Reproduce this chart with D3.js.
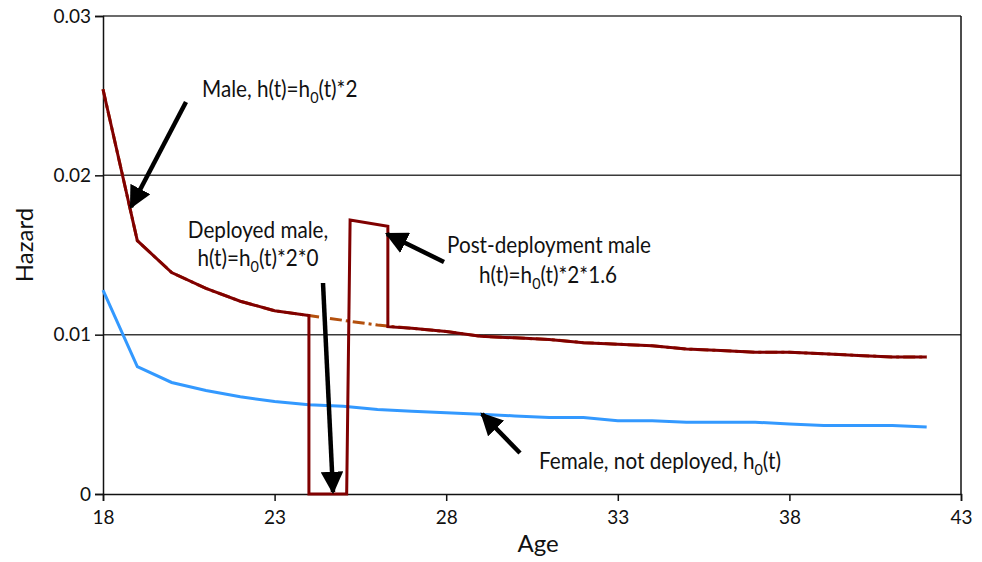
<!DOCTYPE html>
<html>
<head>
<meta charset="utf-8">
<script src="https://cdn.jsdelivr.net/npm/d3@7"></script>
<style>
  html, body { margin: 0; padding: 0; background: #fff; }
  svg { display: block; }
  text { font-family: Lato, "Open Sans", sans-serif; fill: #111; }
</style>
</head>
<body>
<svg id="chart" width="982" height="562"></svg>
<script>
// Ages at which the hazard is tabulated
const ages = [18, 19, 20, 21, 22, 23, 24, 25, 26, 27, 28, 29, 30, 31, 32, 33, 34, 35, 36, 37, 38, 39, 40, 41, 42];

// Female, not deployed: baseline hazard h0(t)
const femaleHazard = [0.0128, 0.0080, 0.0070, 0.0065, 0.0061, 0.0058, 0.0056, 0.0055, 0.0053, 0.0052, 0.0051, 0.0050, 0.0049, 0.0048, 0.0048, 0.0046, 0.0046, 0.0045, 0.0045, 0.0045, 0.0044, 0.0043, 0.0043, 0.0043, 0.0042];

// Male, never deployed: h(t)=h0(t)*2
const maleHazard = [0.0254, 0.0159, 0.0139, 0.0129, 0.0121, 0.0115, 0.0112, 0.0109, 0.0106, 0.0104, 0.0102, 0.0099, 0.0098, 0.0097, 0.0095, 0.0094, 0.0093, 0.0091, 0.0090, 0.0089, 0.0089, 0.0088, 0.0087, 0.0086, 0.0086];

// Male deployed between 24 and 25, then post-deployment until 26.3
const deployedAges =   [18, 19, 20, 21, 22, 23, 24, 24, 25.1, 25.2, 26.3, 26.3, 27, 28, 29, 30, 31, 32, 33, 34, 35, 36, 37, 38, 39, 40, 41, 42];
const deployedHazard = [0.0254, 0.0159, 0.0139, 0.0129, 0.0121, 0.0115, 0.0112, 0, 0, 0.0172, 0.0168, 0.0105, 0.0104, 0.0102, 0.0099, 0.0098, 0.0097, 0.0095, 0.0094, 0.0093, 0.0091, 0.0090, 0.0089, 0.0089, 0.0088, 0.0087, 0.0086, 0.0086];

const xTicks = [18, 23, 28, 33, 38, 43];
const yTicks = [0, 0.01, 0.02, 0.03];
const yTickLabels = ["0", "0.01", "0.02", "0.03"];

const svg = d3.select("#chart");
const margin = { left: 103, right: 21, top: 16, bottom: 68 };
const W = 982, H = 562;

const x = d3.scaleLinear().domain([18, 43]).range([margin.left, W - margin.right]);
const y = d3.scaleLinear().domain([0, 0.03]).range([H - margin.bottom, margin.top]);

// Horizontal gridlines
svg.append("g").selectAll("line").data(yTicks.slice(1)).join("line")
  .attr("x1", x(18)).attr("x2", x(43))
  .attr("y1", d => y(d)).attr("y2", d => y(d))
  .attr("stroke", "#3a3a3a").attr("stroke-width", 1.5);

// Right frame edge
svg.append("line")
  .attr("x1", x(43)).attr("x2", x(43))
  .attr("y1", y(0)).attr("y2", y(0.03))
  .attr("stroke", "#111").attr("stroke-width", 1.5);

// Axes
const xAxis = svg.append("g").attr("transform", `translate(0,${y(0)})`)
  .call(d3.axisBottom(x).tickValues(xTicks).tickFormat(d3.format("d")).tickSize(7).tickPadding(10));
const yAxis = svg.append("g").attr("transform", `translate(${x(18)},0)`)
  .call(d3.axisLeft(y).tickValues(yTicks).tickFormat((d, i) => yTickLabels[i]).tickSize(8).tickPadding(4));
[xAxis, yAxis].forEach(g => {
  g.select(".domain").attr("stroke", "#111").attr("stroke-width", 1.5);
  g.selectAll(".tick line").attr("stroke", "#111").attr("stroke-width", 1.5);
  g.selectAll(".tick text").attr("font-size", 19).attr("font-family", "Lato, sans-serif").attr("fill", "#111");
});

// Axis titles
svg.append("text").attr("x", 538).attr("y", 552)
  .attr("text-anchor", "middle").attr("font-size", 24).text("Age");
svg.append("text").attr("transform", `translate(33,245) rotate(-90)`)
  .attr("text-anchor", "middle").attr("font-size", 24).text("Hazard");

// Series
const line = d3.line().x(d => x(d[0])).y(d => y(d[1]));

svg.append("path")
  .datum(d3.zip(ages, maleHazard))
  .attr("d", line).attr("fill", "none")
  .attr("stroke", "#b4500e").attr("stroke-width", 3)
  .attr("stroke-dasharray", "12,4,3,4");

svg.append("path")
  .datum(d3.zip(ages, femaleHazard))
  .attr("d", line).attr("fill", "none")
  .attr("stroke", "#3399ff").attr("stroke-width", 3);

svg.append("path")
  .datum(d3.zip(deployedAges, deployedHazard))
  .attr("d", line).attr("fill", "none")
  .attr("stroke", "#800000").attr("stroke-width", 3)
  .attr("stroke-linejoin", "miter");

// Annotation arrows
const defs = svg.append("defs");
defs.append("marker").attr("id", "head")
  .attr("viewBox", "0 0 10 10").attr("refX", 9).attr("refY", 5)
  .attr("markerWidth", 5).attr("markerHeight", 5).attr("orient", "auto")
  .attr("markerUnits", "strokeWidth")
  .append("path").attr("d", "M0,0 L10,5 L0,10 Z").attr("fill", "#000");

const arrows = [
  [186, 102, 131, 207],
  [323, 283, 333, 492],
  [444, 262, 387, 234],
  [520, 453, 482, 414]
];
svg.append("g").selectAll("line").data(arrows).join("line")
  .attr("x1", d => d[0]).attr("y1", d => d[1])
  .attr("x2", d => d[2]).attr("y2", d => d[3])
  .attr("stroke", "#000").attr("stroke-width", 4.5)
  .attr("marker-end", "url(#head)");

// Annotation text: slightly condensed, with a subscripted "0" in h0
const ann = svg.append("g").attr("font-size", 23);
function label(px, py, anchor, parts) {
  const t = ann.append("text")
    .attr("transform", `translate(${px},${py}) scale(0.9,1)`)
    .attr("text-anchor", anchor);
  let shift = 0;
  parts.forEach(p => {
    if (typeof p === "object") {
      t.append("tspan").attr("font-size", 16).attr("dy", 6 - shift).text(p.low);
      shift = 6;
    } else {
      const s = t.append("tspan").text(p);
      if (shift) { s.attr("dy", -shift); shift = 0; }
    }
  });
  return t;
}

label(202, 97, "start", ["Male, h(t)=h", { low: "0" }, "(t)*2"]);
label(258, 238, "middle", ["Deployed male,"]);
label(258, 266, "middle", ["h(t)=h", { low: "0" }, "(t)*2*0"]);
label(549, 253, "middle", ["Post-deployment male"]);
label(548, 283, "middle", ["h(t)=h", { low: "0" }, "(t)*2*1.6"]);
label(539, 469, "start", ["Female, not deployed, h", { low: "0" }, "(t)"]);
</script>
</body>
</html>
